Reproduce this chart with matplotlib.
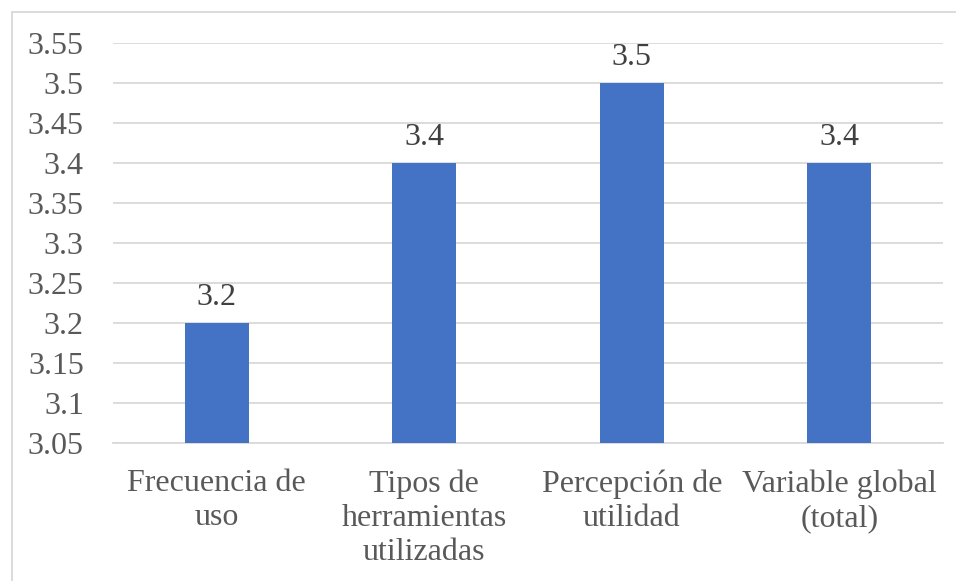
import matplotlib
matplotlib.use("Agg")
import matplotlib.pyplot as plt
from matplotlib.lines import Line2D

categories = ["Frecuencia de\nuso", "Tipos de\nherramientas\nutilizadas",
              "Percepción de\nutilidad", "Variable global\n(total)"]
values = [3.2, 3.4, 3.5, 3.4]
value_labels = ["3.2", "3.4", "3.5", "3.4"]
yticks = [3.05, 3.1, 3.15, 3.2, 3.25, 3.3, 3.35, 3.4, 3.45, 3.5, 3.55]
ytick_labels = ["3.05", "3.1", "3.15", "3.2", "3.25", "3.3", "3.35", "3.4", "3.45", "3.5", "3.55"]

plt.rcParams['font.family'] = ['Liberation Serif', 'DejaVu Serif']
text_color = "#595959"
fs = 23

W, H = 956, 581
fig = plt.figure(figsize=(W / 100, H / 100), dpi=100)
ax = fig.add_axes([113 / W, 1 - 443 / H, (943 - 113) / W, (443 - 43) / H])

x = range(len(categories))
bars = ax.bar(x, values, width=0.31, color="#4472C4", zorder=3)
for xi, v, lab in zip(x, values, value_labels):
    ax.annotate(lab, (xi, v), xytext=(0, 8), textcoords="offset points",
                ha="center", va="bottom", fontsize=fs, color="#404040")

ax.set_ylim(3.05, 3.55)
ax.set_xlim(-0.5, len(categories) - 0.5)
ax.set_yticks(yticks)
ax.set_yticklabels(ytick_labels, fontsize=fs, color=text_color)
ax.set_xticks(list(x))
ax.set_xticklabels(categories, fontsize=fs, color=text_color, linespacing=1.22)
ax.tick_params(axis="both", length=0)
ax.tick_params(axis="y", pad=21)
ax.tick_params(axis="x", pad=19)

ax.yaxis.grid(True, color="#D9D9D9", linewidth=1.3, zorder=0)
ax.set_axisbelow(True)
for s in ["top", "right", "left"]:
    ax.spines[s].set_visible(False)
ax.spines["bottom"].set_color("#D9D9D9")
ax.spines["bottom"].set_linewidth(1.3)

# chart-area border (top & left visible within image)
fig.add_artist(Line2D([12 / W, 12 / W], [0, 1 - 12 / H], transform=fig.transFigure,
                      color="#D9D9D9", linewidth=1.3))
fig.add_artist(Line2D([12 / W, 1], [1 - 12 / H, 1 - 12 / H], transform=fig.transFigure,
                      color="#D9D9D9", linewidth=1.3))

fig.savefig("out.png", dpi=100, facecolor="white")
